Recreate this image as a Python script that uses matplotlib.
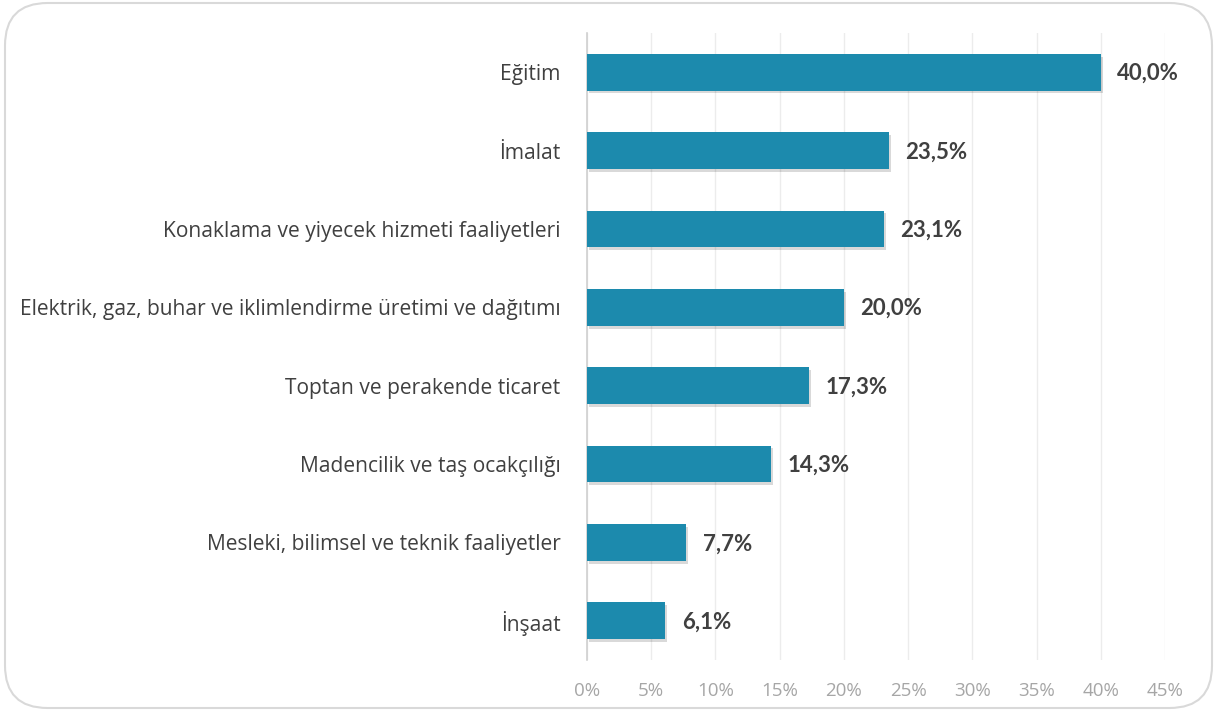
import matplotlib
matplotlib.use("Agg")
import matplotlib.pyplot as plt
from matplotlib.patches import FancyBboxPatch
import matplotlib.patheffects as pe

categories = [
    "Eğitim",
    "İmalat",
    "Konaklama ve yiyecek hizmeti faaliyetleri",
    "Elektrik, gaz, buhar ve iklimlendirme üretimi ve dağıtımı",
    "Toptan ve perakende ticaret",
    "Madencilik ve taş ocakçılığı",
    "Mesleki, bilimsel ve teknik faaliyetler",
    "İnşaat",
]
values = [40.0, 23.5, 23.1, 20.0, 17.3, 14.3, 7.7, 6.1]
xticks = [0, 5, 10, 15, 20, 25, 30, 35, 40, 45]
xtick_labels = [f"{t}%" for t in xticks]

plt.rcParams['font.family'] = ['Open Sans', 'DejaVu Sans']

fig = plt.figure(figsize=(12.18, 7.11), dpi=100)
fig.patch.set_facecolor("white")
border = FancyBboxPatch((5/1218, 3/711), 1207/1218, 705/711,
                        boxstyle="round,pad=0,rounding_size=0.035",
                        transform=fig.transFigure, facecolor="none",
                        edgecolor="#d9d9d9", linewidth=1.5,
                        mutation_aspect=1218/711, zorder=-1)
fig.patches.append(border)

ax = fig.add_axes([587/1218, 1 - 660/711, (1165 - 587)/1218, (660 - 33)/711])
ax.set_facecolor("none")
y = list(range(len(categories)))
bars = ax.barh(y, values, height=0.47, color="#1C8AAD", zorder=3)
for b in bars:
    b.set_path_effects([pe.SimplePatchShadow(offset=(1.5, -2), shadow_rgbFace="#000000", alpha=0.15), pe.Normal()])
ax.set_ylim(len(categories) - 0.5, -0.5)
ax.set_xlim(0, 45)
ax.set_xticks(xticks)
ax.set_xticklabels(xtick_labels, color="#a6a6a6", fontsize=13.5)
ax.set_yticks(y)
ax.set_yticklabels(categories, color="#404040", fontsize=15.1)
ax.tick_params(axis="both", length=0)
ax.tick_params(axis="x", pad=16)
ax.tick_params(axis="y", pad=19)
ax.grid(axis="x", color="#ececec", linewidth=1, zorder=0)
for s in ["top", "right", "bottom"]:
    ax.spines[s].set_visible(False)
ax.spines["left"].set_color("#d0d0d0")
ax.spines["left"].set_linewidth(1.2)
for yi, v in zip(y, values):
    ax.annotate(f"{v:.1f}%".replace(".", ","), xy=(v, yi), xytext=(12, -1),
                textcoords="offset points", va="center", ha="left",
                fontsize=16, fontweight="bold", color="#404040",
                family=["Lato", "DejaVu Sans"])

fig.savefig("out.png", dpi=100)
